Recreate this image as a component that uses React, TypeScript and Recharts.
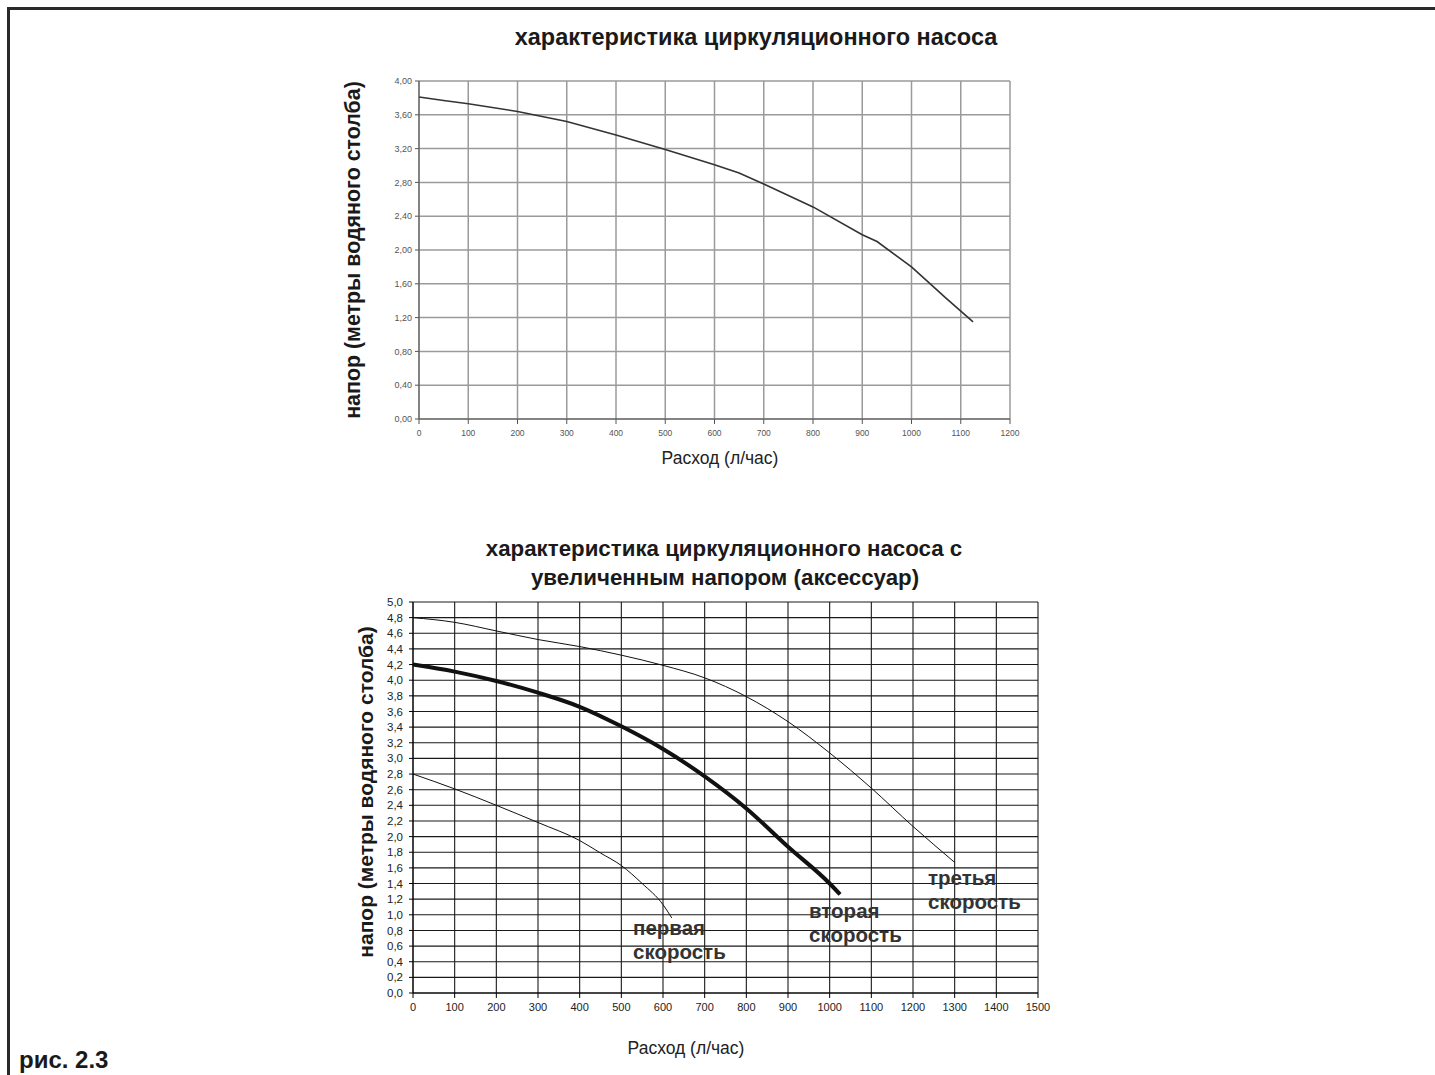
import React from "react";
import { LineChart, Line, XAxis, YAxis, CartesianGrid } from "recharts";

// top chart: standard circulation pump
const topFlow = [0, 50, 100, 200, 300, 400, 500, 600, 650, 700, 800, 900, 930, 1000, 1070, 1125];
const topHead = [3.81, 3.77, 3.73, 3.64, 3.52, 3.36, 3.19, 3.01, 2.91, 2.78, 2.51, 2.18, 2.1, 1.8, 1.43, 1.15];
const topXTicks = [0, 100, 200, 300, 400, 500, 600, 700, 800, 900, 1000, 1100, 1200];
const topYTicks = [0, 0.4, 0.8, 1.2, 1.6, 2.0, 2.4, 2.8, 3.2, 3.6, 4.0];

// bottom chart: high head pump, three speeds
const speed1Flow = [0, 100, 200, 300, 400, 450, 500, 550, 600, 621];
const speed1Head = [2.8, 2.61, 2.4, 2.18, 1.95, 1.79, 1.63, 1.4, 1.13, 0.96];
const speed2Flow = [0, 100, 200, 300, 400, 500, 600, 700, 800, 900, 1000, 1025];
const speed2Head = [4.2, 4.11, 3.99, 3.84, 3.66, 3.41, 3.12, 2.77, 2.36, 1.87, 1.4, 1.26];
const speed3Flow = [0, 100, 200, 300, 400, 500, 600, 700, 800, 900, 1000, 1100, 1200, 1300];
const speed3Head = [4.8, 4.74, 4.63, 4.52, 4.43, 4.32, 4.19, 4.03, 3.79, 3.47, 3.07, 2.62, 2.13, 1.67];
const botXTicks = [0, 100, 200, 300, 400, 500, 600, 700, 800, 900, 1000, 1100, 1200, 1300, 1400, 1500];
const botYTicks = [
  0, 0.2, 0.4, 0.6, 0.8, 1.0, 1.2, 1.4, 1.6, 1.8, 2.0, 2.2, 2.4, 2.6, 2.8, 3.0, 3.2, 3.4, 3.6, 3.8, 4.0,
  4.2, 4.4, 4.6, 4.8, 5.0,
];

const speedLabels = ["первая", "вторая", "третья"];

const toPoints = (xs: number[], ys: number[]) => xs.map((q, i) => ({ q, h: ys[i] }));

const FONT = '"Liberation Sans", Arial, Helvetica, sans-serif';

const abs = (left: number, top: number, extra: React.CSSProperties = {}): React.CSSProperties => ({
  position: "absolute",
  left,
  top,
  transform: "translate(-50%, -50%)",
  whiteSpace: "nowrap",
  ...extra,
});

const bold = (size: number): React.CSSProperties => ({ fontWeight: 700, fontSize: size, color: "#1a1a1a" });

function TopChart() {
  return (
    <div style={{ position: "absolute", left: 330, top: 60 }}>
      <LineChart width={720} height={420} margin={{ top: 21, right: 40, left: 29, bottom: 31 }}>
        <CartesianGrid stroke="#9a9a9a" strokeWidth={1.5} />
        <XAxis
          type="number"
          dataKey="q"
          domain={[0, 1200]}
          ticks={topXTicks}
          interval={0}
          height={30}
          tickSize={5}
          tickMargin={6}
          stroke="#555"
          tick={{ fontSize: 8.5, fill: "#555" }}
        />
        <YAxis
          type="number"
          dataKey="h"
          domain={[0, 4]}
          ticks={topYTicks}
          interval={0}
          width={60}
          tickSize={4}
          tickMargin={3}
          stroke="#555"
          tick={{ fontSize: 9, fill: "#555" }}
          tickFormatter={(v) => Number(v).toFixed(2).replace(".", ",")}
        />
        <Line
          data={toPoints(topFlow, topHead)}
          dataKey="h"
          type="linear"
          stroke="#333"
          strokeWidth={1.6}
          dot={false}
          isAnimationActive={false}
        />
      </LineChart>
    </div>
  );
}

function BottomChart() {
  return (
    <div style={{ position: "absolute", left: 330, top: 590 }}>
      <LineChart width={740} height={440} margin={{ top: 12, right: 32, left: 33, bottom: 7 }}>
        <CartesianGrid stroke="#1a1a1a" strokeWidth={1.1} />
        <XAxis
          type="number"
          dataKey="q"
          domain={[0, 1500]}
          ticks={botXTicks}
          interval={0}
          height={30}
          tickSize={5}
          tickMargin={5}
          stroke="#000"
          tick={{ fontSize: 11, fill: "#222" }}
        />
        <YAxis
          type="number"
          dataKey="h"
          domain={[0, 5]}
          ticks={botYTicks}
          interval={0}
          width={50}
          tickSize={4}
          tickMargin={6}
          stroke="#000"
          tick={{ fontSize: 11.5, fill: "#222" }}
          tickFormatter={(v) => Number(v).toFixed(1).replace(".", ",")}
        />
        <Line
          data={toPoints(speed1Flow, speed1Head)}
          dataKey="h"
          type="monotone"
          stroke="#111"
          strokeWidth={1}
          dot={false}
          isAnimationActive={false}
        />
        <Line
          data={toPoints(speed2Flow, speed2Head)}
          dataKey="h"
          type="monotone"
          stroke="#111"
          strokeWidth={4}
          dot={false}
          isAnimationActive={false}
        />
        <Line
          data={toPoints(speed3Flow, speed3Head)}
          dataKey="h"
          type="monotone"
          stroke="#111"
          strokeWidth={1}
          dot={false}
          isAnimationActive={false}
        />
      </LineChart>
    </div>
  );
}

export default function App() {
  const yLabel = "напор (метры водяного столба)";
  const xLabel = "Расход (л/час)";
  const labelPos = [
    { left: 633, top: 928 },
    { left: 809, top: 911 },
    { left: 928, top: 878 },
  ];
  return (
    <div
      style={{
        position: "absolute",
        left: 0,
        top: 0,
        width: 1435,
        height: 1075,
        background: "#fff",
        fontFamily: FONT,
        overflow: "hidden",
      }}
    >
      {/* page frame: top and left rules */}
      <div style={{ position: "absolute", left: 7, top: 7, width: 1428, height: 3, background: "#2a2a2a" }} />
      <div style={{ position: "absolute", left: 7, top: 7, width: 3, height: 1068, background: "#2a2a2a" }} />

      <div style={abs(756, 37, bold(23.5))}>характеристика циркуляционного насоса</div>
      <TopChart />
      <div style={abs(353, 250, { ...bold(21.4), transform: "translate(-50%, -50%) rotate(-90deg)" })}>{yLabel}</div>
      <div style={abs(720, 458, { fontSize: 17.5, color: "#222" })}>{xLabel}</div>

      <div style={abs(724, 549, bold(22.3))}>характеристика циркуляционного насоса с</div>
      <div style={abs(725, 578, bold(22.3))}>увеличенным напором (аксессуар)</div>
      <BottomChart />
      <div style={abs(366, 792, { ...bold(21), transform: "translate(-50%, -50%) rotate(-90deg)" })}>{yLabel}</div>
      <div style={abs(686, 1048, { fontSize: 17.5, color: "#222" })}>{xLabel}</div>

      {speedLabels.map((name, i) => (
        <div
          key={name}
          style={{
            position: "absolute",
            left: labelPos[i].left,
            top: labelPos[i].top - 12,
            lineHeight: "24px",
            fontWeight: 700,
            fontSize: 20.5,
            color: "#333",
            whiteSpace: "nowrap",
          }}
        >
          {name}
          <br />
          скорость
        </div>
      ))}

      <div style={{ position: "absolute", left: 19, top: 1046, ...bold(24), lineHeight: "28px" }}>рис. 2.3</div>
    </div>
  );
}
